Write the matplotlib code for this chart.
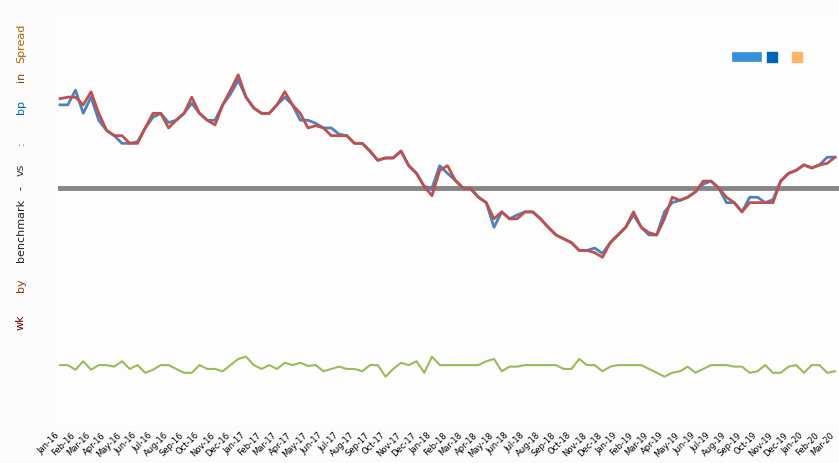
import matplotlib
matplotlib.use("Agg")
import matplotlib.pyplot as plt
import matplotlib.transforms as mtransforms
from matplotlib.lines import Line2D
import pandas as pd

# ---- data -------------------------------------------------------------
spread_a = [11.6, 11.8, 11.8, 10.8, 12.5, 9.7, 7.5, 6.8, 6.8, 5.8,
            5.8, 7.8, 9.7, 9.7, 7.8, 8.8, 9.7, 11.8, 9.7, 8.8,
            8.2, 10.8, 12.7, 14.7, 11.8, 10.4, 9.7, 9.7, 10.8, 12.5,
            10.8, 9.7, 7.8, 8.1, 7.8, 6.8, 6.8, 6.8, 5.8, 5.8,
            4.8, 3.6, 3.9, 3.9, 4.8, 2.9, 1.9, 0.2, -1.0, 2.3,
            2.9, 1.0, 0.0, -0.1, -1.2, -1.9, -4.0, -3.1, -4.0, -4.0,
            -3.1, -3.1, -4.0, -5.1, -6.1, -6.6, -7.1, -8.1, -8.1, -8.4,
            -9.0, -7.1, -6.1, -5.1, -3.1, -5.1, -5.8, -6.1, -4.0, -1.2,
            -1.6, -1.2, -0.5, 0.9, 0.9, 0.0, -1.2, -1.9, -3.1, -1.9,
            -1.9, -1.9, -1.9, 0.9, 1.9, 2.3, 3.0, 2.6, 3.0, 3.2,
            4.0]

spread_b = [10.8, 10.8, 12.7, 9.7, 11.8, 8.8, 7.5, 6.8, 5.8, 5.8,
            6.0, 7.8, 9.2, 9.7, 8.5, 8.8, 9.7, 11.0, 9.7, 8.8,
            8.8, 10.8, 12.2, 14.0, 11.8, 10.4, 9.7, 9.7, 10.8, 11.8,
            10.8, 8.8, 8.8, 8.4, 7.8, 7.8, 7.0, 6.8, 5.8, 5.8,
            4.8, 3.6, 3.9, 3.9, 4.8, 2.9, 1.9, 0.2, 0.0, 2.9,
            1.9, 1.0, 0.0, -0.1, -1.2, -1.9, -5.1, -3.1, -4.0, -3.5,
            -3.1, -3.1, -4.0, -5.1, -6.1, -6.6, -7.1, -8.1, -8.1, -7.8,
            -8.5, -7.1, -6.1, -5.1, -3.5, -5.1, -6.1, -6.1, -3.1, -1.9,
            -1.6, -1.2, -0.5, 0.5, 0.9, 0.0, -1.9, -1.9, -3.1, -1.2,
            -1.2, -1.9, -1.5, 0.9, 1.9, 2.3, 3.0, 2.6, 3.0, 4.0,
            4.0]

volume = [-23.0, -23.0, -23.6, -22.5, -23.6, -23.0, -23.0, -23.2, -22.5, -23.5,
          -23.0, -24.0, -23.6, -23.0, -23.0, -23.5, -24.0, -24.0, -23.0, -23.5,
          -23.5, -23.8, -23.0, -22.2, -21.9, -23.0, -23.5, -23.0, -23.5, -22.7,
          -23.0, -22.7, -23.1, -23.0, -23.8, -23.5, -23.2, -23.5, -23.5, -23.8,
          -23.0, -23.0, -24.5, -23.5, -22.7, -23.0, -22.5, -24.0, -21.9, -23.0,
          -23.0, -23.0, -23.0, -23.0, -23.0, -22.5, -22.2, -23.8, -23.2, -23.2,
          -23.0, -23.0, -23.0, -23.0, -23.0, -23.5, -23.5, -22.2, -23.0, -23.0,
          -23.8, -23.2, -23.0, -23.0, -23.0, -23.0, -23.5, -24.0, -24.5, -24.0,
          -23.8, -23.2, -24.0, -23.5, -23.0, -23.0, -23.0, -23.2, -23.2, -24.0,
          -23.8, -23.0, -24.0, -24.0, -23.2, -23.0, -24.0, -23.0, -23.0, -24.0,
          -23.8]

baseline = 0.0

period_labels = [d.strftime("%b-%y") for d in
                 pd.date_range("2016-01-01", periods=51, freq="MS")]

# ---- figure -----------------------------------------------------------
W, H = 839, 463
fig = plt.figure(figsize=(W / 100, H / 100), dpi=100, facecolor="#fcfcfc")
ax = fig.add_axes([58 / W, (H - 425) / H, (839 - 58) / W, 410 / H])
ax.set_facecolor("#fdfdfd")

x = list(range(len(spread_a)))
ax.axhline(baseline, color="#868686", lw=3.5, zorder=1)
ax.plot(x, spread_b, color="#4f81bd", lw=2, zorder=2)
ax.plot(x, spread_a, color="#c0504d", lw=2, zorder=3)
ax.plot(x, volume, color="#9bbb59", lw=1.5, zorder=2)

ax.set_xlim(-0.26, 100.52)
ax.set_ylim(-30.78, 22.47)

for s in ax.spines.values():
    s.set_visible(False)
ax.set_yticks([])
ax.set_xticks(x[::2])
ax.set_xticklabels(period_labels, rotation=45, ha="right",
                   rotation_mode="anchor", fontsize=6, color="black")
ax.tick_params(axis="x", length=0, pad=4)
# nudge the slanted date labels a little to the left of their ticks
shift = mtransforms.ScaledTranslation(-0.05, 0, fig.dpi_scale_trans)
for lbl in ax.get_xticklabels():
    lbl.set_transform(lbl.get_transform() + shift)

# legend keys in the upper right
handles = [Line2D([], [], color="#3a8fdc", lw=7),
           Line2D([], [], color="#0066b3", marker="s", ms=7, ls="none"),
           Line2D([], [], color="#ffb366", marker="s", ms=7, ls="none")]
fig.legend(handles, ["", "", ""], ncol=3, frameon=False,
           loc="center", bbox_to_anchor=(772 / W, 1 - 58 / H),
           handlelength=1.5, handletextpad=0.0, columnspacing=0.3)

# coloured axis caption down the left edge
caption = [("Spread", 43, "#b36200"), ("in", 77, "#8c3a00"),
           ("bp", 107, "#0066b3"), (":", 143, "#0066b3"),
           ("vs", 170, "#333333"), ("-", 188, "black"),
           ("benchmark", 230, "#222222"), ("by", 285, "#8c3a00"),
           ("wk", 322, "#660000")]
for word, ypix, col in caption:
    fig.text(21 / W, 1 - ypix / H, word, rotation=90, ha="center",
             va="center", fontsize=8, color=col)

fig.savefig("out.png", dpi=100, facecolor=fig.get_facecolor())
